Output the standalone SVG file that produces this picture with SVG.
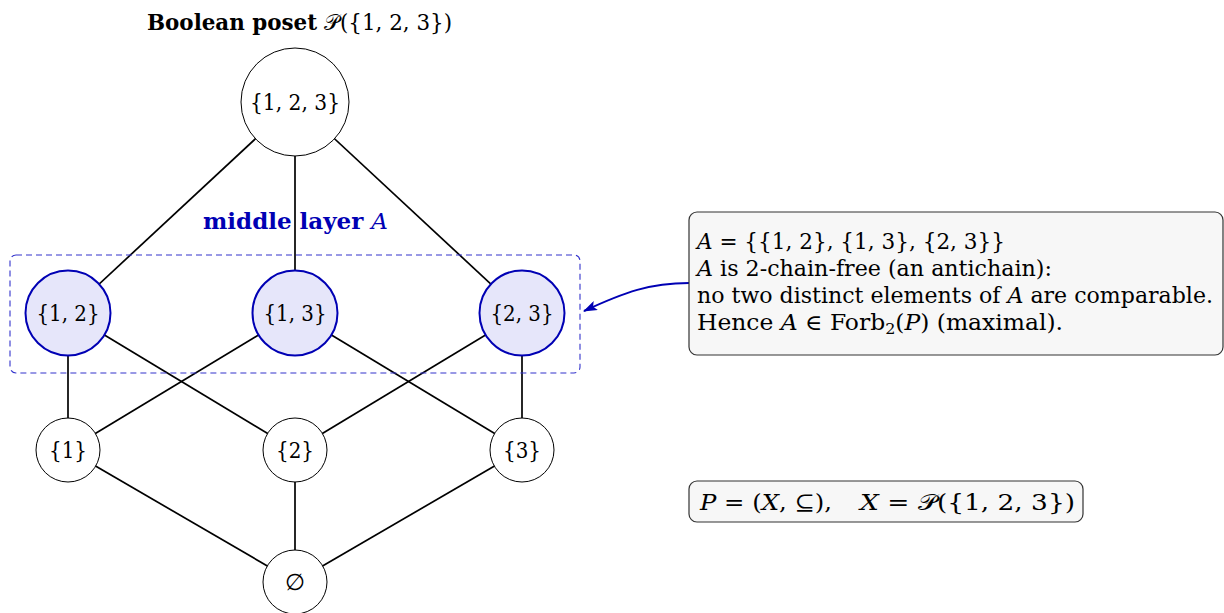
<svg xmlns="http://www.w3.org/2000/svg" width="1224" height="613" viewBox="0 0 1224 613">
<style>
.t{font-family:"DejaVu Serif","Liberation Serif",serif;fill:#000}
.lbl{font-size:23px;text-anchor:middle}
.e{stroke:#000;stroke-width:1.7;fill:none}
.n{fill:#fff;stroke:#000;stroke-width:1}
.a{fill:#e6e6fa;stroke:#0000b4;stroke-width:2}
.box{fill:#f7f7f7;stroke:#333;stroke-width:1.2}
.it{font-style:italic}
</style>
<defs>
<marker id="ah" viewBox="0 0 14 10" refX="13" refY="5" markerWidth="14" markerHeight="10" orient="auto" markerUnits="userSpaceOnUse">
<path d="M0,0 L14,5 L0,10 L3,5 Z" fill="#0000b4"/>
</marker>
</defs>
<rect width="1224" height="613" fill="#fff"/>
<text class="t" x="147" y="30" font-size="22" textLength="305" lengthAdjust="spacingAndGlyphs"><tspan font-weight="bold">Boolean poset </tspan><tspan>𝒫({1, 2, 3})</tspan></text>
<g id="connectors">
<line class="e" x1="295" y1="102" x2="68" y2="313"/>
<line class="e" x1="295" y1="102" x2="295" y2="313"/>
<line class="e" x1="295" y1="102" x2="522" y2="313"/>
<line class="e" x1="68" y1="313" x2="68" y2="450"/>
<line class="e" x1="68" y1="313" x2="295" y2="450"/>
<line class="e" x1="295" y1="313" x2="68" y2="450"/>
<line class="e" x1="295" y1="313" x2="522" y2="450"/>
<line class="e" x1="522" y1="313" x2="295" y2="450"/>
<line class="e" x1="522" y1="313" x2="522" y2="450"/>
<line class="e" x1="68" y1="450" x2="295" y2="582"/>
<line class="e" x1="295" y1="450" x2="295" y2="582"/>
<line class="e" x1="522" y1="450" x2="295" y2="582"/>
<path d="M689,283 C650,283 625,292 584,311" fill="none" stroke="#0000b4" stroke-width="2" marker-end="url(#ah)"/>
</g>
<g id="layer">
<rect x="10" y="255" width="570" height="118" rx="6" fill="none" stroke="#3333cc" stroke-width="1.1" stroke-dasharray="6,4"/>
<text class="t" x="203" y="229" font-size="22" textLength="185" lengthAdjust="spacingAndGlyphs" style="fill:#0000b4"><tspan font-weight="bold">middle layer </tspan><tspan class="it">A</tspan></text>
</g>
<g id="n123"><circle class="n" cx="295" cy="102" r="54"/><text class="t lbl" x="295" y="110" textLength="90" lengthAdjust="spacingAndGlyphs">{1, 2, 3}</text></g>
<g id="n12"><circle class="a" cx="68" cy="313" r="42.5"/><text class="t lbl" x="68" y="321" textLength="63" lengthAdjust="spacingAndGlyphs">{1, 2}</text></g>
<g id="n13"><circle class="a" cx="295" cy="313" r="42.5"/><text class="t lbl" x="295" y="321" textLength="63" lengthAdjust="spacingAndGlyphs">{1, 3}</text></g>
<g id="n23"><circle class="a" cx="522" cy="313" r="42.5"/><text class="t lbl" x="522" y="321" textLength="63" lengthAdjust="spacingAndGlyphs">{2, 3}</text></g>
<g id="n1"><circle class="n" cx="68" cy="450" r="32"/><text class="t lbl" x="68" y="458" textLength="38" lengthAdjust="spacingAndGlyphs">{1}</text></g>
<g id="n2"><circle class="n" cx="295" cy="450" r="32"/><text class="t lbl" x="295" y="458" textLength="38" lengthAdjust="spacingAndGlyphs">{2}</text></g>
<g id="n3"><circle class="n" cx="522" cy="450" r="32"/><text class="t lbl" x="522" y="458" textLength="38" lengthAdjust="spacingAndGlyphs">{3}</text></g>
<g id="n0"><circle class="n" cx="295" cy="582" r="32"/><text class="t lbl" x="295" y="590">∅</text></g>
<g id="note">
<rect class="box" x="689" y="212" width="534" height="143" rx="8"/>
<text class="t" font-size="22" x="697" y="249" textLength="308" lengthAdjust="spacingAndGlyphs"><tspan class="it">A</tspan> = {{1, 2}, {1, 3}, {2, 3}}</text>
<text class="t" font-size="22" x="697" y="276" textLength="355" lengthAdjust="spacingAndGlyphs"><tspan class="it">A</tspan> is 2-chain-free (an antichain):</text>
<text class="t" font-size="22" x="697" y="303" textLength="516" lengthAdjust="spacingAndGlyphs">no two distinct elements of <tspan class="it">A</tspan> are comparable.</text>
<text class="t" font-size="22" x="697" y="330" textLength="366" lengthAdjust="spacingAndGlyphs">Hence <tspan class="it">A</tspan> ∈ Forb<tspan font-size="15" dy="4">2</tspan><tspan dy="-4">(</tspan><tspan class="it">P</tspan>) (maximal).</text>
</g>
<g id="pdef">
<rect class="box" x="689" y="481" width="394" height="41" rx="8"/>
<text class="t" font-size="22" x="700" y="510" textLength="132" lengthAdjust="spacingAndGlyphs"><tspan class="it">P</tspan> = (<tspan class="it">X</tspan>, ⊆),</text>
<text class="t" font-size="22" x="860" y="510" textLength="215" lengthAdjust="spacingAndGlyphs"><tspan class="it">X</tspan> = 𝒫({1, 2, 3})</text>
</g>
</svg>
